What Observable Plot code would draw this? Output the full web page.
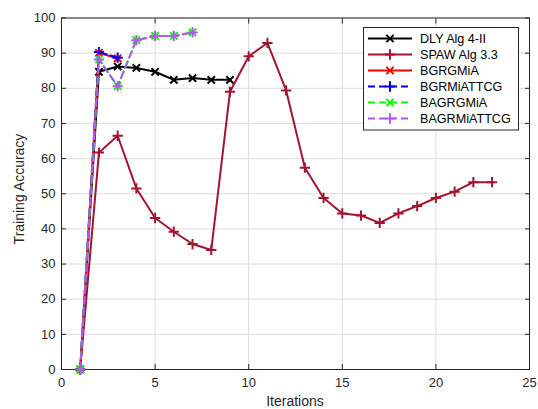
<!DOCTYPE html>
<html>
<head>
<meta charset="utf-8">
<script src="https://cdn.jsdelivr.net/npm/d3@7"></script>
<script src="https://cdn.jsdelivr.net/npm/@observablehq/plot@0.6"></script>
<style>
  html, body { margin: 0; padding: 0; background: #fff; }
  #chart { width: 538px; height: 409px; }
  svg { font-family: "Liberation Sans", Arial, sans-serif; }
</style>
</head>
<body>
<div id="chart"></div>
<script>
const seriesNames = ["DLY Alg 4-II", "SPAW Alg 3.3", "BGRGMiA", "BGRMiATTCG", "BAGRGMiA", "BAGRMiATTCG"];
const seriesColors = ["#000000", "#A2142F", "#FF0000", "#0000FF", "#00FF00", "#B556F5"];
const seriesSymbols = ["times", "plus", "times", "plus", "times", "plus"];
const seriesDashed = [false, false, false, true, true, true];

const dlyAcc = [0, 84.7, 86.2, 85.8, 84.7, 82.4, 82.9, 82.4, 82.4];
const spawAcc = [0, 61.7, 66.5, 51.5, 43.1, 39.2, 35.7, 34.0, 79.0, 89.1, 92.9, 79.4, 57.4, 48.8, 44.4, 43.8, 41.7, 44.4, 46.5, 48.8, 50.6, 53.3, 53.3];
const bgrgmiaAcc = [0, 90.1, 88.5];
const bgrmiattcgAcc = [0, 90.3, 88.7];
const bagrgmiaAcc = [0, 88.2, 80.6, 93.7, 94.9, 94.9, 95.9];
const bagrmiattcgAcc = [0, 88.2, 80.6, 93.7, 94.9, 94.9, 95.9];

const xTicks = [0, 5, 10, 15, 20, 25];
const yTicks = [0, 10, 20, 30, 40, 50, 60, 70, 80, 90, 100];

const allSeries = [dlyAcc, spawAcc, bgrgmiaAcc, bgrmiattcgAcc, bagrgmiaAcc, bagrmiattcgAcc];
const rows = allSeries.map((vals, s) => vals.map((v, i) => ({series: seriesNames[s], iter: i + 1, acc: v})));

const axisColor = "#262626";
const marks = [
  Plot.gridX(xTicks, {stroke: "#dcdcdc", strokeOpacity: 1}),
  Plot.gridY(yTicks, {stroke: "#dcdcdc", strokeOpacity: 1}),
  Plot.axisX(xTicks, {anchor: "bottom", tickSize: 0, tickPadding: 8, fill: axisColor, fontSize: 13, label: null}),
  Plot.axisY(yTicks, {anchor: "left", tickSize: 0, tickPadding: 6, fill: axisColor, fontSize: 13, label: null}),
  Plot.axisX(xTicks, {anchor: "bottom", tickSize: -5, fill: "none", stroke: axisColor, label: null}),
  Plot.axisX(xTicks, {anchor: "top", tickSize: -5, fill: "none", stroke: axisColor, label: null}),
  Plot.axisY(yTicks, {anchor: "left", tickSize: -5, fill: "none", stroke: axisColor, label: null}),
  Plot.axisY(yTicks, {anchor: "right", tickSize: -5, fill: "none", stroke: axisColor, label: null}),
  Plot.frame({stroke: axisColor, strokeWidth: 1})
];
rows.forEach((data, s) => {
  marks.push(Plot.line(data, {x: "iter", y: "acc", stroke: seriesColors[s], strokeWidth: 2,
    strokeDasharray: seriesDashed[s] ? "7,4" : null}));
  marks.push(Plot.dot(data, {x: "iter", y: "acc", symbol: seriesSymbols[s], stroke: seriesColors[s],
    fill: "none", strokeWidth: 2, r: 3.4}));
});

const chart = Plot.plot({
  width: 538,
  height: 409,
  marginLeft: 61,
  marginRight: 9,
  marginTop: 17.5,
  marginBottom: 40,
  x: {domain: [0, 25]},
  y: {domain: [0, 100]},
  style: {background: "#fff", color: axisColor, fontFamily: "Liberation Sans, Arial, sans-serif"},
  marks
});
document.getElementById("chart").appendChild(chart);

// axis titles and legend
const svg = d3.select(chart);
svg.append("text").attr("x", 295).attr("y", 406).attr("text-anchor", "middle")
  .attr("font-size", 14).attr("fill", axisColor).text("Iterations");
svg.append("text").attr("transform", "translate(19.5,189) rotate(-90)").attr("text-anchor", "middle")
  .attr("dy", "0.35em").attr("font-size", 14).attr("fill", axisColor).text("Training Accuracy");

const lg = svg.append("g");
lg.append("rect").attr("x", 363.5).attr("y", 27.5).attr("width", 155).attr("height", 102.5)
  .attr("fill", "#fff").attr("stroke", axisColor);
seriesNames.forEach((name, i) => {
  const y = 38.5 + i * 16;
  lg.append("line").attr("x1", 368).attr("x2", 412).attr("y1", y).attr("y2", y)
    .attr("stroke", seriesColors[i]).attr("stroke-width", 2)
    .attr("stroke-dasharray", seriesDashed[i] ? "7,4" : null);
  const sym = d3.symbol(seriesSymbols[i] === "times" ? d3.symbolTimes : d3.symbolPlus, Math.PI * 3.4 * 3.4);
  lg.append("path").attr("d", sym()).attr("transform", `translate(390,${y})`)
    .attr("fill", "none").attr("stroke", seriesColors[i]).attr("stroke-width", 2);
  lg.append("text").attr("x", 420).attr("y", y).attr("dy", "0.35em").attr("font-size", 12.6)
    .attr("text-anchor", "start").attr("fill", "#000").text(name);
});
</script>
</body>
</html>
